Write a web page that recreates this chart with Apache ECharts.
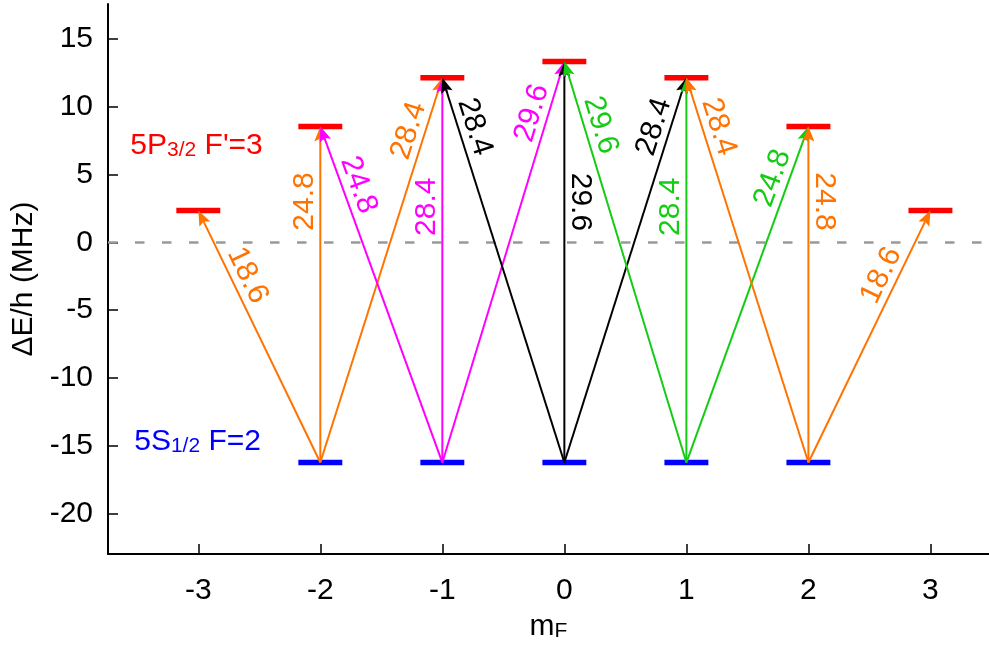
<!DOCTYPE html>
<html>
<head>
<meta charset="utf-8">
<script src="https://cdn.jsdelivr.net/npm/echarts@6/dist/echarts.min.js"></script>
<style>
  html, body { margin: 0; padding: 0; background: #fff; }
  #chart { width: 989px; height: 647px; }
</style>
</head>
<body>
<div id="chart"></div>
<script>
// Zeeman sublevels of the F=2 -> F'=3 transition and the allowed dipole transitions.
const mFTicks = [-3, -2, -1, 0, 1, 2, 3];
const energyTicks = [-20, -15, -10, -5, 0, 5, 10, 15];

// ground manifold 5S1/2 F=2 (MHz)
const groundM = [-2, -1, 0, 1, 2];
const groundE = -16.25;

// excited manifold 5P3/2 F'=3 (MHz)
const excitedM = [-3, -2, -1, 0, 1, 2, 3];
const excitedE = [2.35, 8.55, 12.15, 13.35, 12.15, 8.55, 2.35];

// transitions: ground m_F -> excited m_F, frequency in MHz
const fromM = [-2, -2, -2, -1, -1, -1, 0, 0, 0, 1, 1, 1, 2, 2, 2];
const toM   = [-3, -2, -1, -2, -1, 0, -1, 0, 1, 0, 1, 2, 1, 2, 3];
const freq  = [18.6, 24.8, 28.4, 24.8, 28.4, 29.6, 28.4, 29.6, 28.4, 29.6, 28.4, 24.8, 28.4, 24.8, 18.6];

// manifold captions
const captions = ['{n|5P}{s|3/2}{n| F\'=3}', '{n|5S}{s|1/2}{n| F=2}'];
const captionX = [-3.557, -3.525];
const captionY = [7.16, -14.69];

// ---- styling ----
const FONT = '"Liberation Sans", Arial, Helvetica, sans-serif';
const ORANGE = '#ff7300';
const MAGENTA = '#ff00ff';
const GREEN = '#14cc14';
const sourceColor = { '-2': ORANGE, '-1': MAGENTA, '0': '#000000', '1': GREEN, '2': ORANGE };
// label placement along each arrow: side (+1 right, -1 left) and fraction from the ground end
const labelSide = [1, -1, -1, 1, -1, -1, 1, 1, -1, 1, -1, -1, 1, 1, -1];
const labelFrac = [0.715, 0.777, 0.85, 0.81, 0.665, 0.86, 0.86, 0.65, 0.86, 0.83, 0.665, 0.83, 0.86, 0.777, 0.715];
const LABEL_OFF = 16;
const LEVEL_HALF = 0.18;

const levelData = [];
groundM.forEach(m => levelData.push([m, groundE, 0]));
excitedM.forEach((m, i) => levelData.push([m, excitedE[i], 1]));

const arrowData = fromM.map((m, i) => [m, toM[i], freq[i]]);

function renderLevel(params, api) {
  const m = api.value(0), e = api.value(1);
  const a = api.coord([m - LEVEL_HALF, e]);
  const b = api.coord([m + LEVEL_HALF, e]);
  return {
    type: 'line',
    shape: { x1: a[0], y1: a[1], x2: b[0], y2: b[1] },
    style: { stroke: api.value(2) ? '#ff0000' : '#0000ff', lineWidth: 5.5 }
  };
}

function renderArrow(params, api) {
  const i = params.dataIndex;
  const m0 = api.value(0), m1 = api.value(1), f = api.value(2);
  const p0 = api.coord([m0, groundE]);
  const p1 = api.coord([m1, groundE + f]);
  const dx = p1[0] - p0[0], dy = p1[1] - p0[1];
  const len = Math.hypot(dx, dy);
  const ux = dx / len, uy = dy / len;
  let nx = -uy, ny = ux;
  const color = sourceColor[String(m0)];

  // arrowhead
  const L = 15, W = 6, notch = 3;
  const bx = p1[0] - ux * L, by = p1[1] - uy * L;
  const head = [
    [p1[0], p1[1]],
    [bx + nx * W, by + ny * W],
    [p1[0] - ux * (L - notch), p1[1] - uy * (L - notch)],
    [bx - nx * W, by - ny * W]
  ];
  const lineEnd = [p1[0] - ux * (L - notch), p1[1] - uy * (L - notch)];

  // label
  const side = labelSide[i];
  if (nx * side < 0) { nx = -nx; ny = -ny; }
  const t = labelFrac[i];
  const cx = p0[0] + dx * t + nx * LABEL_OFF;
  const cy = p0[1] + dy * t + ny * LABEL_OFF;
  const rx = -ny, ry = nx;
  const rot = Math.atan2(-ry, rx);

  return {
    type: 'group',
    children: [
      { type: 'line', shape: { x1: p0[0], y1: p0[1], x2: lineEnd[0], y2: lineEnd[1] },
        style: { stroke: color, lineWidth: 2 } },
      { type: 'polygon', shape: { points: head }, style: { fill: color } },
      { type: 'text', x: cx, y: cy, rotation: rot,
        style: { text: f.toFixed(1), x: 0, y: 0, fill: color, fontSize: 30, fontFamily: FONT,
                 align: 'center', verticalAlign: 'middle' } }
    ]
  };
}

function renderCaption(params, api) {
  const i = params.dataIndex;
  const p = api.coord([api.value(0), api.value(1)]);
  const color = i === 0 ? '#ff0000' : '#0000ff';
  return {
    type: 'text', x: p[0], y: p[1],
    style: {
      text: captions[i], x: 0, y: 0, align: 'left', verticalAlign: 'middle',
      fill: color, fontFamily: FONT,
      rich: {
        n: { fontSize: 30, lineHeight: 30, verticalAlign: 'middle', fill: color, fontFamily: FONT },
        s: { fontSize: 21, lineHeight: 16, verticalAlign: 'bottom', fill: color, fontFamily: FONT }
      }
    }
  };
}

const chart = echarts.init(document.getElementById('chart'), null, { renderer: 'canvas' });
chart.setOption({
  animation: false,
  backgroundColor: '#ffffff',
  grid: { left: 108, right: 0, top: 4, bottom: 91, containLabel: false },
  xAxis: {
    type: 'value', min: -3.74, max: 3.48,
    name: '{m|m}{s|F}', nameLocation: 'middle', nameGap: 58,
    nameTextStyle: {
      rich: {
        m: { fontSize: 30, lineHeight: 30, verticalAlign: 'middle', color: '#000', fontFamily: FONT },
        s: { fontSize: 21, lineHeight: 16, verticalAlign: 'bottom', color: '#000', fontFamily: FONT }
      }
    },
    axisLine: { show: true, onZero: false, lineStyle: { color: '#000', width: 2 } },
    axisTick: { show: true, inside: true, length: 10, customValues: mFTicks, lineStyle: { color: '#000', width: 1.5 } },
    axisLabel: { customValues: mFTicks, fontSize: 30, color: '#000', fontFamily: FONT, margin: 22 },
    splitLine: { show: false }
  },
  yAxis: {
    type: 'value', min: -23, max: 17.6,
    name: 'ΔE/h (MHz)', nameLocation: 'middle', nameGap: 65,
    nameTextStyle: { fontSize: 30, color: '#000', fontFamily: FONT },
    axisLine: { show: true, onZero: false, lineStyle: { color: '#000', width: 2 } },
    axisTick: { show: true, inside: true, length: 10, customValues: energyTicks, lineStyle: { color: '#000', width: 1.5 } },
    axisLabel: { customValues: energyTicks, fontSize: 30, color: '#000', fontFamily: FONT, margin: 15 },
    splitLine: { show: false }
  },
  series: [
    {
      type: 'custom', name: 'levels', coordinateSystem: 'cartesian2d', clip: false, z: 2,
      data: levelData, renderItem: renderLevel,
      markLine: {
        silent: true, symbol: 'none', label: { show: false }, z: 1,
        lineStyle: { color: '#999999', width: 2.5, type: [9.5, 17.5] },
        data: [{ yAxis: 0 }]
      }
    },
    {
      type: 'custom', name: 'transitions', coordinateSystem: 'cartesian2d', clip: false, z: 3,
      data: arrowData, renderItem: renderArrow
    },
    {
      type: 'custom', name: 'captions', coordinateSystem: 'cartesian2d', clip: false, z: 4,
      data: captionX.map((x, i) => [x, captionY[i]]), renderItem: renderCaption
    }
  ]
});
</script>
</body>
</html>
